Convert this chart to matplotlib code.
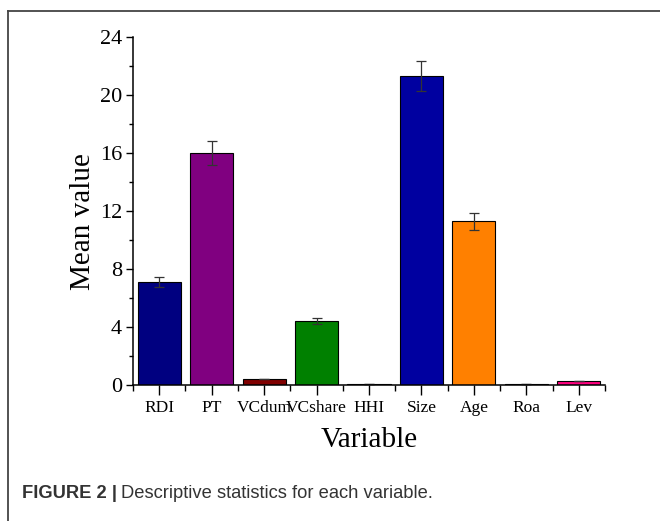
import numpy as np
import matplotlib.pyplot as plt
from matplotlib.lines import Line2D

# datos
variables = ["RDI", "PT", "VCdum", "VCshare", "HHI", "Size", "Age", "Roa", "Lev"]
means = [7.1, 16.0, 0.43, 4.41, 0.05, 21.3, 11.3, 0.08, 0.3]
errors = [0.35, 0.8, 0.0, 0.2, 0.0, 1.05, 0.58, 0.0, 0.0]
colors = ["#000080", "#800080", "#800000", "#008000", "#004040",
          "#0000A0", "#FF8000", "#400040", "#FF0080"]

plt.rcParams['font.family'] = ['Liberation Serif', 'DejaVu Serif']

fig = plt.figure(figsize=(6.6, 5.21), dpi=100)
ax = fig.add_axes([133/660, 1 - 385/521, (605 - 133)/660, (385 - 37)/521])

x = np.arange(1, len(variables) + 1)
ax.bar(x, means, width=0.82, color=colors, edgecolor="black", linewidth=0.8,
       yerr=errors, error_kw=dict(ecolor="#333333", elinewidth=0.9, capsize=3.5, capthick=0.9))

ax.set_xlim(0.5, len(variables) + 0.5)
ax.set_ylim(0, 24)
ax.set_yticks(np.arange(0, 25, 4))
ax.set_yticks(np.arange(2, 24, 4), minor=True)
ax.set_xticks(x)
ax.set_xticks(np.arange(0.5, len(variables) + 1, 1), minor=True)
ax.set_xticklabels(variables, fontsize=12.5)
ax.tick_params(axis='y', labelsize=16, length=5, width=1, pad=3)
ax.tick_params(axis='y', which='minor', length=3, width=1)
ax.tick_params(axis='x', length=7, width=1, pad=4)
ax.tick_params(axis='x', which='minor', length=4, width=1)

for s in ['top', 'right']:
    ax.spines[s].set_visible(False)
for s in ['left', 'bottom']:
    ax.spines[s].set_linewidth(1.1)

ax.set_ylabel("Mean value", fontsize=21, labelpad=1)
ax.yaxis.set_label_coords(-0.078, 0.47)
ax.set_xlabel("Variable", fontsize=21, labelpad=8)

# marco exterior
fig.add_artist(Line2D([8/660, 1.0], [1 - 11/521, 1 - 11/521], color="#444444", lw=1.3))
fig.add_artist(Line2D([8/660, 8/660], [0.0, 1 - 11/521], color="#444444", lw=1.3))

t1 = fig.text(22/660, 1 - 493/521, "FIGURE 2 |", fontsize=13.2, fontweight="bold",
              family="Liberation Sans", color="#333333", va="center")
r = fig.canvas.get_renderer()
bb = t1.get_window_extent(renderer=r)
fig.text((bb.x1 + 4)/660, 1 - 493/521, "Descriptive statistics for each variable.", fontsize=13.2,
         family="Liberation Sans", color="#333333", va="center")

fig.savefig("out.png", dpi=100)
